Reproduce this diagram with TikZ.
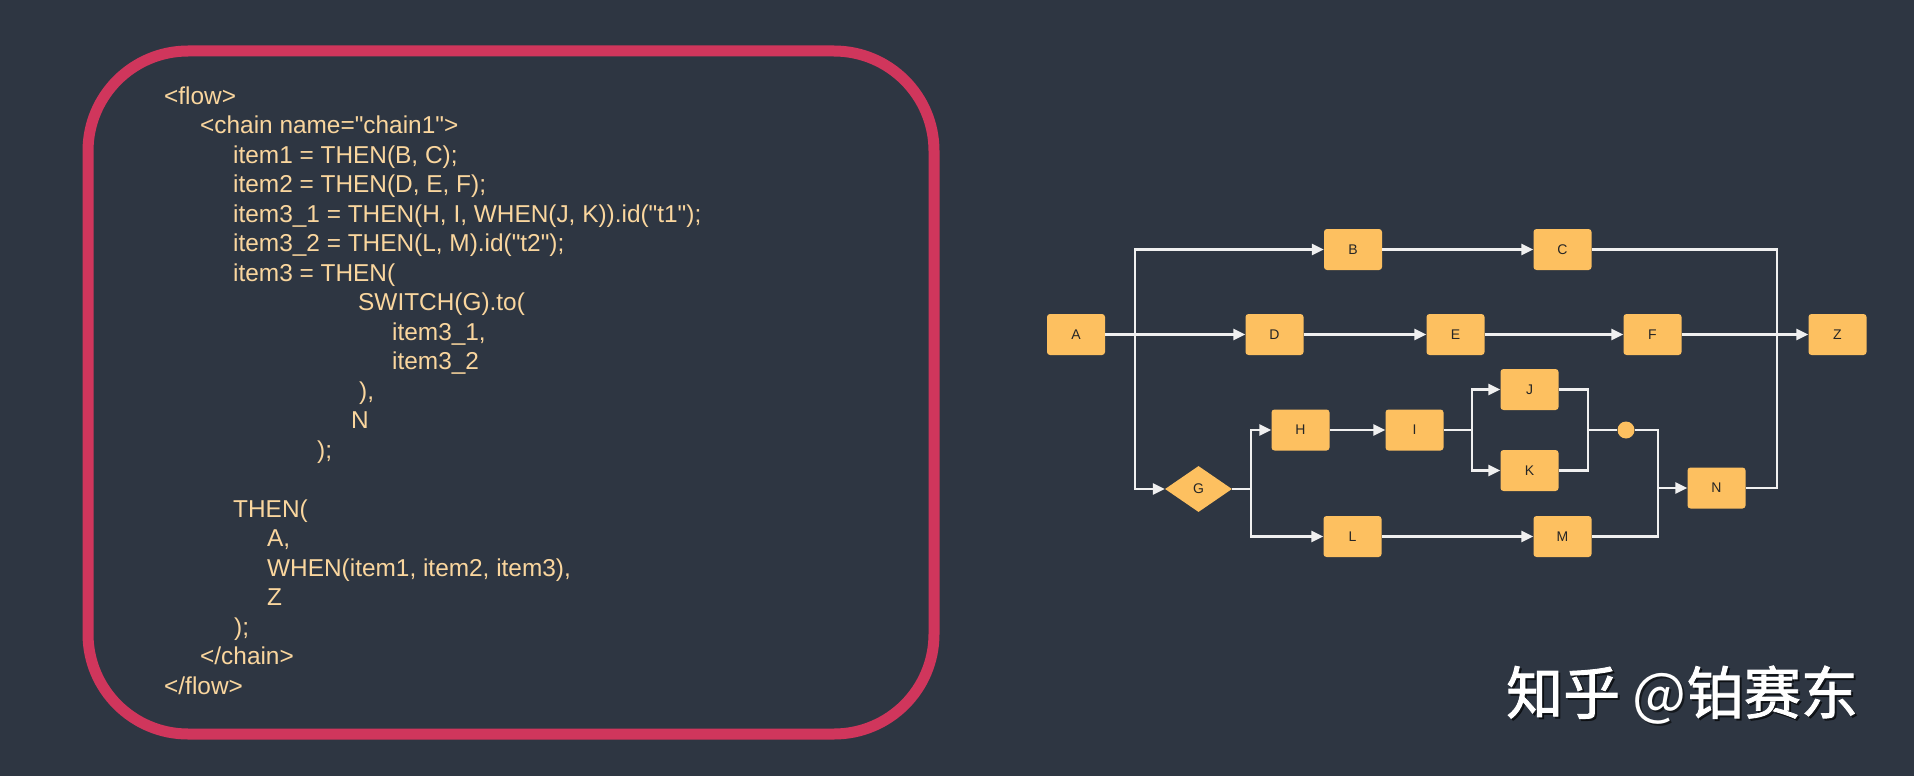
\documentclass[tikz,border=0pt]{standalone}
\usepackage{fontspec}
\setmainfont{Liberation Sans}
\newfontfamily\codefont{Liberation Sans}
\newfontfamily\cjk{Noto Sans CJK SC}[FakeBold=1.6]
\newfontfamily\cjkthin{Noto Sans CJK SC}
\usepackage{tikz}
\usetikzlibrary{arrows.meta}
\usetikzlibrary{shapes.geometric}
\definecolor{bg}{RGB}{46,54,66}
\definecolor{frame}{RGB}{208,54,92}
\definecolor{codetxt}{RGB}{250,214,158}
\definecolor{boxfill}{RGB}{253,192,96}
\definecolor{wire}{RGB}{240,240,240}
\newcommand{\wmtext}{{\cjk 知乎}{\cjkthin\ @}{\cjk 铂赛东}}

\begin{document}
\begin{tikzpicture}[x=1pt,y=-1pt,
  >={Triangle[length=12pt,width=11pt]},
  wire/.style={draw=wire,line width=2.6pt},
  box/.style={fill=boxfill,rounded corners=3pt,minimum width=58pt,minimum height=41pt,inner sep=0pt,text=black!85,font=\fontsize{14}{14}\selectfont},
  gate/.style={diamond,fill=boxfill,minimum width=67pt,minimum height=46pt,inner sep=0pt,text=black!85,font=\fontsize{14}{14}\selectfont},
  code/.style={anchor=base west,inner sep=0pt,text=codetxt,font=\codefont\fontsize{24.4}{29.5}\selectfont},
  watermark/.style={anchor=base west,inner sep=0pt,font=\fontsize{57}{57}\selectfont}]
\fill[bg] (0,0) rectangle (1914,776);
\useasboundingbox (0,0) rectangle (1914,776);
\draw[frame,line width=11pt,rounded corners=100pt] (88,51) rectangle (934,734);

\node[code] (l0) at (164,104) {<flow>};
\node[code] (l1) at (200,133.5) {<chain name="chain1">};
\node[code] (l2) at (233,163) {item1 = THEN(B, C);};
\node[code] (l3) at (233,192.5) {item2 = THEN(D, E, F);};
\node[code] (l4) at (233,222) {item3\_1 = THEN(H, I, WHEN(J, K)).id("t1");};
\node[code] (l5) at (233,251.5) {item3\_2 = THEN(L, M).id("t2");};
\node[code] (l6) at (233,281) {item3 = THEN(};
\node[code] (l7) at (358,310.5) {SWITCH(G).to(};
\node[code] (l8) at (392,340) {item3\_1,};
\node[code] (l9) at (392,369.5) {item3\_2};
\node[code] (l10) at (359,399) {),};
\node[code] (l11) at (351,428.5) {N};
\node[code] (l12) at (317,458) {);};
\node[code] (l14) at (233,517) {THEN(};
\node[code] (l15) at (267,546.5) {A,};
\node[code] (l16) at (267,576) {WHEN(item1, item2, item3),};
\node[code] (l17) at (267,605.5) {Z};
\node[code] (l18) at (234,635) {);};
\node[code] (l19) at (200,664.5) {</chain>};
\node[code] (l20) at (164,694) {</flow>};

\node[box] (A) at (1076,334.5) {A};
\node[box] (B) at (1353,249.5) {B};
\node[box] (C) at (1562.5,249.5) {C};
\node[box] (D) at (1274.5,334.5) {D};
\node[box] (E) at (1455.5,334.5) {E};
\node[box] (F) at (1652.5,334.5) {F};
\node[box] (Z) at (1837.5,334.5) {Z};
\node[gate] (G) at (1198.5,489) {G};
\node[box] (H) at (1300.5,430) {H};
\node[box] (I) at (1414.5,430) {I};
\node[box] (J) at (1529.5,389.5) {J};
\node[box] (K) at (1529.5,470.5) {K};
\node[box] (L) at (1352.5,536.5) {L};
\node[box] (M) at (1562.5,536.5) {M};
\node[box] (N) at (1716.5,488) {N};
\node[circle,fill=boxfill,minimum size=17pt,inner sep=0pt] (dot) at (1626,430) {};

\coordinate (sA) at (1135,334.5);
\coordinate (sG) at (1251,489);
\coordinate (sI) at (1472,430);
\coordinate (mJK) at (1588,430);
\coordinate (mN) at (1658,488);
\coordinate (mZ) at (1777,334.5);

\draw[wire,->] (A) -- (D);
\draw[wire,->] (sA) |- (B);
\draw[wire,->] (sA) |- (G);
\draw[wire,->] (B) -- (C);
\draw[wire,->] (D) -- (E);
\draw[wire,->] (E) -- (F);
\draw[wire,->] (F) -- (Z);
\draw[wire] (C) -| (mZ);
\draw[wire] (N) -| (mZ);
\draw[wire] (G) -- (sG);
\draw[wire,->] (sG) |- (H);
\draw[wire,->] (sG) |- (L);
\draw[wire,->] (H) -- (I);
\draw[wire] (I) -- (sI);
\draw[wire,->] (sI) |- (J);
\draw[wire,->] (sI) |- (K);
\draw[wire] (J) -| (mJK);
\draw[wire] (K) -| (mJK);
\draw[wire] (mJK) -- (dot);
\draw[wire] (dot) -| (mN);
\draw[wire] (M) -| (mN);
\draw[wire,->] (L) -- (M);
\draw[wire,->] (mN) -- (N);

\node[watermark,text=black,opacity=0.55] (wmshade) at (1508,716) {\wmtext};
\node[watermark,text=white] (wm) at (1506,714) {\wmtext};
\end{tikzpicture}
\end{document}
